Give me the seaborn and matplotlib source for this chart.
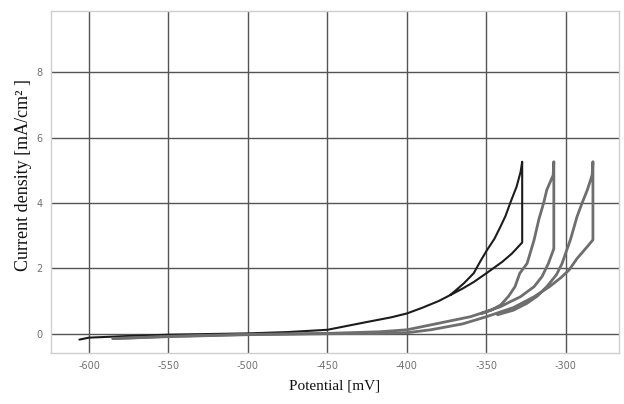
import numpy as np
import pandas as pd
import matplotlib
matplotlib.use("Agg")
import matplotlib.pyplot as plt
import seaborn as sns

# ---- data ----
c1_x = [-606, -600, -575, -550, -525, -500, -475, -450, -425, -410, -400, -390, -380, -372,
        -365, -358, -350, -340, -334, -327.5,
        -327.5, -328.5, -331, -335, -338, -341.2, -345, -349.6, -354, -358, -364, -368, -372.6]
c1_y = [-0.18, -0.12, -0.07, -0.03, -0.01, 0.01, 0.05, 0.12, 0.36, 0.50, 0.62, 0.80, 1.00, 1.20,
        1.38, 1.58, 1.85, 2.20, 2.45, 2.79,
        5.26, 4.95, 4.50, 4.00, 3.60, 3.27, 2.90, 2.56, 2.20, 1.85, 1.55, 1.38, 1.19]

c2_x = [-585, -550, -500, -450, -417, -400, -375, -360, -347.5, -341, -335, -328.6, -320,
        -315, -311, -307.6,
        -307.6, -308, -312, -314, -317, -320, -324.4, -329, -332, -336, -341, -347, -353]
c2_y = [-0.15, -0.08, -0.02, 0.01, 0.06, 0.12, 0.37, 0.52, 0.72, 0.83, 0.98, 1.13, 1.44,
        1.75, 2.15, 2.60,
        5.26, 4.85, 4.40, 4.00, 3.50, 2.87, 2.15, 1.85, 1.44, 1.15, 0.88, 0.72, 0.62]

c3_x = [-585, -550, -500, -450, -417, -400, -385, -365, -350, -333, -320, -310, -303, -298,
        -293, -288, -283,
        -283, -283.5, -286.5, -289.8, -293, -297, -302.4, -306, -312, -318, -324.5, -333, -343]
c3_y = [-0.15, -0.09, -0.03, 0.0, 0.01, 0.03, 0.12, 0.30, 0.52, 0.80, 1.13, 1.45, 1.72, 1.95,
        2.30, 2.58, 2.87,
        5.26, 4.85, 4.40, 4.00, 3.58, 2.90, 2.15, 1.80, 1.44, 1.15, 0.93, 0.72, 0.58]

x_ticks = [-600, -550, -500, -450, -400, -350, -300]
y_ticks = [0, 2, 4, 6, 8]

df = pd.concat([
    pd.DataFrame({"x": c1_x, "y": c1_y, "curve": "c1", "order": range(len(c1_x))}),
    pd.DataFrame({"x": c2_x, "y": c2_y, "curve": "c2", "order": range(len(c2_x))}),
    pd.DataFrame({"x": c3_x, "y": c3_y, "curve": "c3", "order": range(len(c3_x))}),
], ignore_index=True)

sns.set_style("whitegrid")
plt.rcParams["font.family"] = ["DejaVu Sans"]

fig = plt.figure(figsize=(6.24, 4.04), dpi=100)
ax = fig.add_axes([51 / 624, 1 - 353 / 404, (619 - 51) / 624, (353 - 11) / 404])

palette = {"c1": "#1c1c1c", "c2": "#6e6e6e", "c3": "#6e6e6e"}
sns.lineplot(data=df, x="x", y="y", hue="curve", units="curve", estimator=None,
             sort=False, palette=palette, legend=False, ax=ax, linewidth=1.8)
for ln, lw in zip(ax.lines, [1.5, 2.0, 2.0]):
    ln.set_linewidth(lw)
    ln.set_solid_joinstyle("round")

ax.set_xlim(-623.9, -266.6)
ax.set_ylim(-0.59, 9.87)
ax.set_xticks(x_ticks)
ax.set_yticks(y_ticks)
ax.set_xticklabels([str(v) for v in x_ticks])
ax.set_yticklabels([str(v) for v in y_ticks])

ax.grid(True, color="#545454", linewidth=1.0)
ax.set_axisbelow(True)
for s in ax.spines.values():
    s.set_color("#cfcfcf")
    s.set_linewidth(1.0)
ax.tick_params(axis="both", which="both", length=3, color="#9a9a9a",
               labelsize=7, labelcolor="#707070", pad=3)
for lab in ax.get_xticklabels() + ax.get_yticklabels():
    lab.set_family(["Liberation Sans Narrow", "DejaVu Sans"])

ax.set_xlabel("Potential [mV]", family=["Liberation Serif", "DejaVu Serif"],
              fontsize=11, color="#111111", labelpad=6)
ax.set_ylabel("Current density [mA/cm² ]", family=["Liberation Serif", "DejaVu Serif"],
              fontsize=13, color="#111111", labelpad=3)
ax.yaxis.set_label_coords(-0.033, 0.52)

fig.savefig("out.png", dpi=100)
